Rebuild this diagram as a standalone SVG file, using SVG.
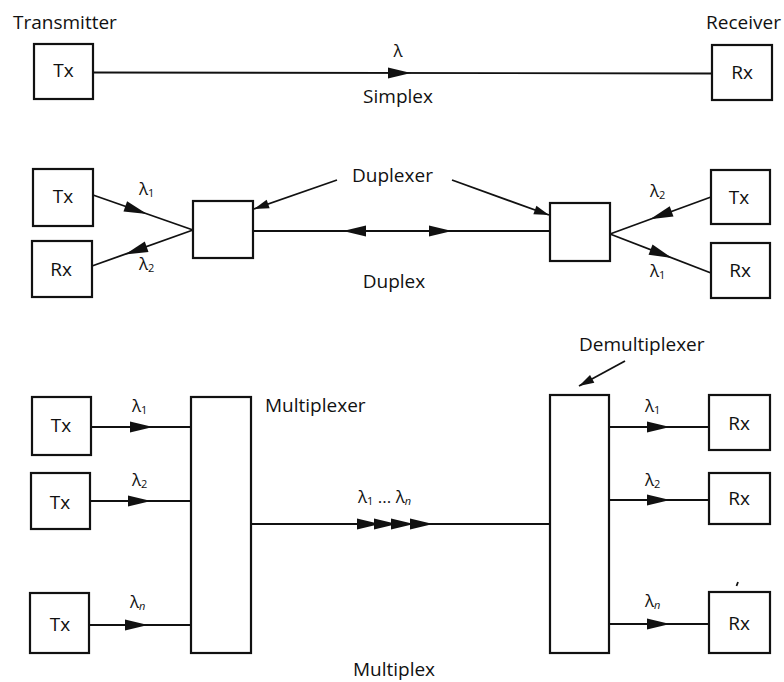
<svg xmlns="http://www.w3.org/2000/svg" xmlns:xlink="http://www.w3.org/1999/xlink" width="784" height="682" viewBox="0 0 784 682">
<style>
  text { font-family: "Open Sans", "Liberation Sans", sans-serif; fill: #111; }
  .lbl { font-size: 19px; }
  .nd { font-size: 19px; text-anchor: middle; }
  .lam { font-size: 17px; }
  .sub { font-size: 11px; }
  .box { fill: #fff; stroke: #111; stroke-width: 2.2; }
  .ln { stroke: #111; stroke-width: 1.8; fill: none; }
  .ah { fill: #111; }
</style>
<defs>
  <path id="ah" class="ah" d="M0,0 L-23,-5.5 L-23,5.5 Z"/>
  <path id="ahs" class="ah" d="M0,0 L-15,-4.5 L-15,4.5 Z"/>
</defs>
<rect width="784" height="682" fill="#fff"/>

<!-- connectors -->
<g id="connectors">
  <!-- simplex -->
  <line class="ln" x1="93" y1="72.5" x2="712" y2="73.5"/>
  <use xlink:href="#ah" transform="translate(411,73)"/>
  <!-- duplex left -->
  <line class="ln" x1="93" y1="195" x2="193" y2="230"/>
  <use xlink:href="#ah" transform="translate(147,214) rotate(19.3)"/>
  <line class="ln" x1="193" y1="230" x2="92" y2="266"/>
  <use xlink:href="#ah" transform="translate(125,254.5) rotate(160.2)"/>
  <!-- duplex trunk -->
  <line class="ln" x1="253" y1="231" x2="550" y2="231"/>
  <use xlink:href="#ah" transform="translate(343,231) rotate(180)"/>
  <use xlink:href="#ah" transform="translate(452,231)"/>
  <!-- duplex right -->
  <line class="ln" x1="711" y1="197" x2="610" y2="234"/>
  <use xlink:href="#ah" transform="translate(650,219.3) rotate(159.9)"/>
  <line class="ln" x1="610" y1="234" x2="711" y2="273"/>
  <use xlink:href="#ah" transform="translate(672,258) rotate(21.1)"/>
  <!-- duplexer pointers -->
  <line class="ln" x1="337" y1="180" x2="254" y2="209"/>
  <use xlink:href="#ahs" transform="translate(254,209) rotate(160.7)"/>
  <line class="ln" x1="452" y1="180" x2="549" y2="215"/>
  <use xlink:href="#ahs" transform="translate(549,215) rotate(19.8)"/>
  <!-- multiplexer inputs -->
  <line class="ln" x1="91" y1="427" x2="191" y2="427"/>
  <use xlink:href="#ah" transform="translate(153,427)"/>
  <line class="ln" x1="90" y1="501" x2="191" y2="501"/>
  <use xlink:href="#ah" transform="translate(151,501)"/>
  <line class="ln" x1="89" y1="625" x2="191" y2="625"/>
  <use xlink:href="#ah" transform="translate(148,625)"/>
  <!-- trunk -->
  <line class="ln" x1="251" y1="524" x2="550" y2="524"/>
  <use xlink:href="#ah" transform="translate(380,524)"/>
  <use xlink:href="#ah" transform="translate(397,524)"/>
  <use xlink:href="#ah" transform="translate(414,524)"/>
  <use xlink:href="#ah" transform="translate(433,524)"/>
  <!-- demux outputs -->
  <line class="ln" x1="609" y1="427" x2="709" y2="427"/>
  <use xlink:href="#ah" transform="translate(670,427)"/>
  <line class="ln" x1="609" y1="500" x2="709" y2="500"/>
  <use xlink:href="#ah" transform="translate(670,500)"/>
  <line class="ln" x1="609" y1="624" x2="709" y2="624"/>
  <use xlink:href="#ah" transform="translate(670,624)"/>
  <!-- demultiplexer pointer -->
  <line class="ln" x1="625" y1="361" x2="579" y2="386"/>
  <use xlink:href="#ahs" transform="translate(579,386) rotate(151.5)"/>
</g>

<!-- simplex nodes -->
<g id="simplex-tx">
  <rect class="box" x="34" y="44" width="59" height="55"/>
  <text class="nd" x="63.5" y="77">Tx</text>
</g>
<g id="simplex-rx">
  <rect class="box" x="712" y="45" width="60" height="55"/>
  <text class="nd" x="742" y="79">Rx</text>
</g>

<!-- duplex nodes -->
<g id="duplex-tx-left">
  <rect class="box" x="33" y="169" width="60" height="57"/>
  <text class="nd" x="63" y="203">Tx</text>
</g>
<g id="duplex-rx-left">
  <rect class="box" x="32" y="241" width="60" height="56"/>
  <text class="nd" x="61" y="276">Rx</text>
</g>
<g id="duplexer-left">
  <rect class="box" x="193" y="201" width="60" height="57"/>
</g>
<g id="duplexer-right">
  <rect class="box" x="550" y="203" width="60" height="58"/>
</g>
<g id="duplex-tx-right">
  <rect class="box" x="711" y="170" width="59" height="54"/>
  <text class="nd" x="739" y="204">Tx</text>
</g>
<g id="duplex-rx-right">
  <rect class="box" x="711" y="243" width="59" height="55"/>
  <text class="nd" x="740" y="277">Rx</text>
</g>

<!-- multiplex nodes -->
<g id="mux-tx1">
  <rect class="box" x="32" y="397" width="59" height="58"/>
  <text class="nd" x="61" y="432">Tx</text>
</g>
<g id="mux-tx2">
  <rect class="box" x="31" y="473" width="59" height="56"/>
  <text class="nd" x="60" y="509">Tx</text>
</g>
<g id="mux-txn">
  <rect class="box" x="30" y="593" width="59" height="60"/>
  <text class="nd" x="60" y="631">Tx</text>
</g>
<g id="multiplexer">
  <rect class="box" x="191" y="397" width="60" height="256"/>
</g>
<g id="demultiplexer">
  <rect class="box" x="550" y="395" width="59" height="258"/>
</g>
<g id="demux-rx1">
  <rect class="box" x="709" y="395" width="61" height="55"/>
  <text class="nd" x="739" y="430">Rx</text>
</g>
<g id="demux-rx2">
  <rect class="box" x="709" y="473" width="61" height="51"/>
  <text class="nd" x="739" y="505">Rx</text>
</g>
<g id="demux-rxn">
  <rect class="box" x="709" y="592" width="61" height="61"/>
  <text class="nd" x="739" y="630">Rx</text>
  <path class="ln" d="M738,582 L736.5,586" stroke-width="1.2"/>
</g>

<!-- labels -->
<g id="labels">
  <text class="lbl" x="13" y="29">Transmitter</text>
  <text class="lbl" x="781" y="29" text-anchor="end">Receiver</text>
  <text class="lam" x="398" y="57" text-anchor="middle">λ</text>
  <text class="lbl" x="398" y="103" text-anchor="middle">Simplex</text>

  <text class="lbl" x="352" y="182">Duplexer</text>
  <text class="lbl" x="394" y="288" text-anchor="middle">Duplex</text>
  <text class="lam" x="139" y="195">λ<tspan class="sub" dy="2">1</tspan></text>
  <text class="lam" x="139" y="270">λ<tspan class="sub" dy="2">2</tspan></text>
  <text class="lam" x="650" y="197">λ<tspan class="sub" dy="2">2</tspan></text>
  <text class="lam" x="650" y="277">λ<tspan class="sub" dy="2">1</tspan></text>

  <text class="lbl" x="265" y="412">Multiplexer</text>
  <text class="lbl" x="579" y="351">Demultiplexer</text>
  <text class="lbl" x="394" y="676" text-anchor="middle">Multiplex</text>
  <text class="lam" x="132" y="412">λ<tspan class="sub" dy="2">1</tspan></text>
  <text class="lam" x="132" y="486">λ<tspan class="sub" dy="2">2</tspan></text>
  <text class="lam" x="130" y="608">λ<tspan class="sub" dy="2" font-style="italic">n</tspan></text>
  <text class="lam" x="645" y="412">λ<tspan class="sub" dy="2">1</tspan></text>
  <text class="lam" x="645" y="486">λ<tspan class="sub" dy="2">2</tspan></text>
  <text class="lam" x="645" y="607">λ<tspan class="sub" dy="2" font-style="italic">n</tspan></text>
  <text class="lam" x="358" y="503">λ<tspan class="sub" dy="2">1</tspan><tspan dy="-2"> ... λ</tspan><tspan class="sub" dy="2" font-style="italic">n</tspan></text>
</g>
</svg>
